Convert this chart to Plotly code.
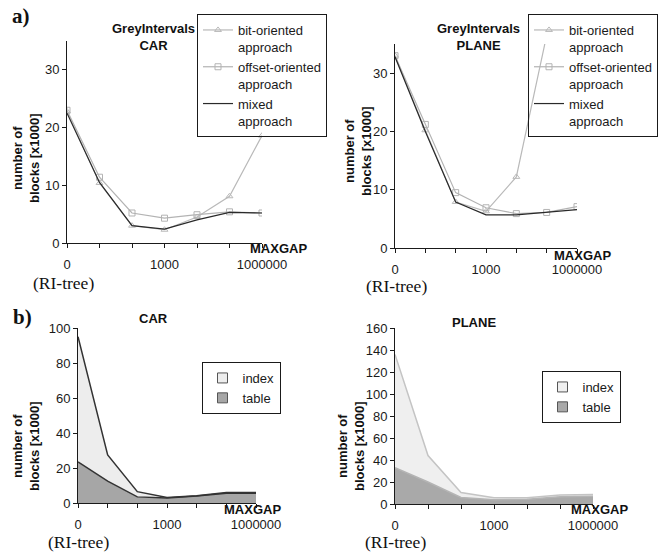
import plotly.graph_objects as go

W, H = 660, 553

# MAXGAP settings (category axis, labelled every third step)
maxgap = ['0', '10', '100', '1000', '10000', '100000', '1000000']
maxgap_labels = ['0', '', '', '1000', '', '', '1000000']

# a) number of blocks [x1000] for the GreyIntervals approaches
car_bit = [22.8, 10.4, 3.0, 2.3, 4.5, 8.1, 18.6]
car_offset = [23.0, 11.4, 5.2, 4.3, 4.9, 5.4, 5.2]
car_mixed = [22.5, 10.5, 3.0, 2.4, 4.0, 5.3, 5.2]
plane_bit = [33.0, 20.2, 7.9, 6.3, 12.2, 36.5, 48.0]
plane_offset = [33.0, 21.2, 9.5, 6.9, 5.9, 6.1, 7.1]
plane_mixed = [32.8, 20.0, 7.9, 5.7, 5.7, 6.1, 6.6]

# b) blocks split into table and index part (stacked)
car_table = [23.5, 12.5, 3.5, 2.9, 4.0, 5.6, 5.6]
car_index = [71.5, 15.0, 3.0, 0.2, 0.2, 0.4, 0.4]
plane_table = [33.0, 20.0, 6.0, 3.8, 4.3, 6.5, 7.0]
plane_index = [103.0, 24.0, 4.5, 1.9, 1.3, 1.7, 1.6]

SANS = 'Liberation Sans, Arial, sans-serif'
SERIF = 'Liberation Serif, Times New Roman, serif'
INK = '#1a1a1a'


def px_x(p):
    return p / W


def px_y(p):
    return 1 - p / H


fig = go.Figure()

# ---- top row: line charts ----
line_styles = [
    ('bit-oriented<br>approach', '#b9b9b9', 'triangle-up-open', 6),
    ('offset-oriented<br>approach', '#b3b3b3', 'square-open', 6),
    ('mixed<br>approach', '#2a2a2a', None, 0),
]
top_series = [
    ('x', 'y', 'legend', [car_bit, car_offset, car_mixed]),
    ('x2', 'y2', 'legend2', [plane_bit, plane_offset, plane_mixed]),
]
for xa, ya, lg, series in top_series:
    for (name, color, sym, size), vals in zip(line_styles, series):
        fig.add_trace(go.Scatter(
            x=maxgap, y=vals, name=name, xaxis=xa, yaxis=ya, legend=lg,
            mode='lines+markers' if sym else 'lines',
            line=dict(color=color, width=1.2),
            marker=dict(symbol=sym or 'circle', size=size, color=color,
                        line=dict(color=color, width=1)),
        ))

# ---- bottom row: stacked areas ----
bottom_series = [
    ('x3', 'y3', 'legend3', 'car', car_table, car_index, '#333333', '#333333',
     '#a6a6a6', '#ededed'),
    ('x4', 'y4', 'legend4', 'plane', plane_table, plane_index, '#b4b4b4',
     '#c4c4c4', '#a9a9a9', '#efefef'),
]
for xa, ya, lg, grp, table, index, tline, iline, tfill, ifill in bottom_series:
    fig.add_trace(go.Scatter(
        x=maxgap, y=table, xaxis=xa, yaxis=ya, stackgroup=grp, mode='lines',
        line=dict(color=tline, width=1.5), fillcolor=tfill, showlegend=False,
    ))
    fig.add_trace(go.Scatter(
        x=maxgap, y=index, xaxis=xa, yaxis=ya, stackgroup=grp, mode='lines',
        line=dict(color=iline, width=1.5), fillcolor=ifill, showlegend=False,
    ))
    # legend swatches
    for name, fill in (('index', ifill), ('table', tfill)):
        fig.add_trace(go.Scatter(
            x=[None], y=[None], xaxis=xa, yaxis=ya, legend=lg, name=name,
            mode='markers',
            marker=dict(symbol='square', size=10, color=fill,
                        line=dict(color='#555555', width=1)),
        ))

# ---- axes ----
def xaxis_cfg(x0, x1, anchor):
    return dict(
        domain=[px_x(x0), px_x(x1)], anchor=anchor, type='category',
        range=[0, 6], tickmode='array', tickvals=maxgap, ticktext=maxgap_labels,
        ticks='outside', ticklen=4, tickcolor=INK, showline=True,
        linecolor=INK, linewidth=1, showgrid=False, zeroline=False,
        ticklabelstandoff=5,
        tickfont=dict(family=SANS, size=13, color=INK),
    )


def yaxis_cfg(y_top, y_bottom, anchor, rng, dtick):
    return dict(
        domain=[px_y(y_bottom), px_y(y_top)], anchor=anchor, range=rng,
        dtick=dtick, ticks='outside', ticklen=4, tickcolor=INK,
        showline=True, linecolor=INK, linewidth=1, showgrid=False,
        zeroline=False, tickfont=dict(family=SANS, size=13, color=INK),
    )


fig.update_layout(
    xaxis=xaxis_cfg(67, 262, 'y'),
    yaxis=yaxis_cfg(41, 243, 'x', [0, 35], 10),
    xaxis2=xaxis_cfg(395, 577, 'y2'),
    yaxis2=yaxis_cfg(44, 248, 'x2', [0, 35], 10),
    xaxis3=xaxis_cfg(78, 256, 'y3'),
    yaxis3=yaxis_cfg(328, 503, 'x3', [0, 100], 20),
    xaxis4=xaxis_cfg(395, 593, 'y4'),
    yaxis4=yaxis_cfg(328, 504, 'x4', [0, 160], 20),
)

# ---- legends ----
def legend_cfg(x, y, xanchor='left'):
    return dict(
        x=px_x(x), y=px_y(y), xanchor=xanchor, yanchor='top',
        bgcolor='rgba(0,0,0,0)', bordercolor=INK, borderwidth=1,
        font=dict(family=SANS, size=13, color=INK), valign='top',
        tracegroupgap=0, itemwidth=30, traceorder='normal',
    )


fig.update_layout(
    legend=legend_cfg(197, 14),
    legend2=legend_cfg(658, 14, 'right'),
    legend3=legend_cfg(241, 362, 'center'),
    legend4=legend_cfg(581, 371, 'center'),
)

# ---- text labels ----
def note(text, x, y, size=13, bold=True, family=SANS, angle=0, xanchor='center'):
    fig.add_annotation(
        text=f'<b>{text}</b>' if bold else text, x=px_x(x), y=px_y(y),
        xref='paper', yref='paper', showarrow=False, textangle=angle,
        xanchor=xanchor, yanchor='middle',
        font=dict(family=family, size=size, color='#111111'),
    )


note('GreyIntervals<br>CAR', 153, 37)
note('GreyIntervals<br>PLANE', 478, 37)
note('CAR', 153, 318)
note('PLANE', 474, 322)

for x, y in ((26, 158), (358, 151), (26, 446), (351, 446)):
    note('number of<br>blocks [x1000]', x, y, angle=-90)

for x, y in ((278, 249), (582, 255), (252, 509), (599, 509)):
    note('MAXGAP', x, y)

for x, y in ((63, 283), (396, 286), (78, 542), (395, 542)):
    note('(RI-tree)', x, y, size=17.5, bold=False, family=SERIF)

note('a)', 21, 16, size=21, family=SERIF)
note('b)', 22, 317, size=21, family=SERIF)

fig.update_layout(
    width=W, height=H,
    margin=dict(l=0, r=0, t=0, b=0, autoexpand=False),
    paper_bgcolor='white', plot_bgcolor='white',
)

fig.write_html('out.html')
